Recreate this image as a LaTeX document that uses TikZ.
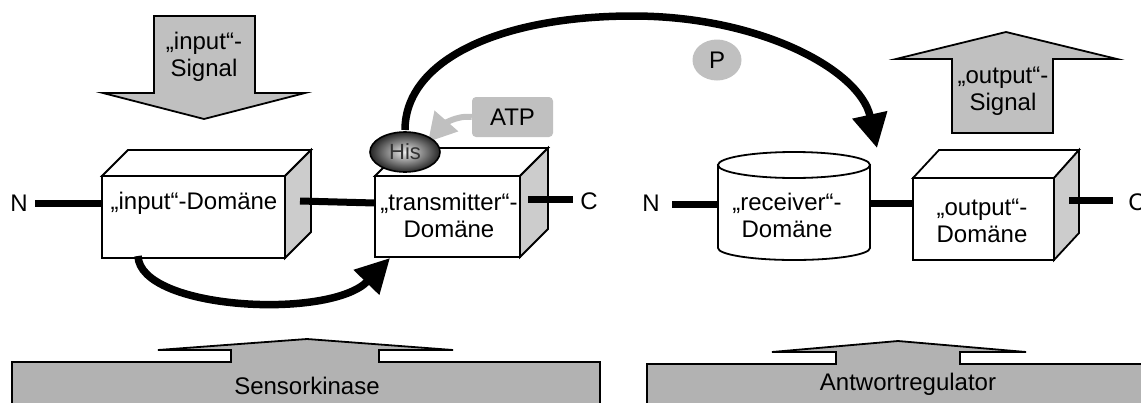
\documentclass[tikz,border=0pt]{standalone}
\usepackage{fontspec}
\setmainfont{Liberation Sans}
\usetikzlibrary{arrows.meta,shapes.geometric}
\definecolor{sig}{RGB}{192,192,192}
\definecolor{side}{RGB}{204,204,204}
\definecolor{band}{RGB}{178,178,178}
\begin{document}
\begin{tikzpicture}[x=1pt,y=-1pt,
  outline/.style={draw=black,line width=1.8pt,line join=miter},
  txt/.style={font=\fontsize{24}{27}\selectfont,inner sep=0pt,align=center},
  bond/.style={line width=7pt},
  face/.style={outline,fill=white,inner sep=0pt},
  thickarrow/.style={line width=7.5pt,-{Triangle[length=34pt,width=34pt]}},
]
\useasboundingbox (0,0) rectangle (1141,402);

% input signal
\draw[outline,fill=sig] (154,16) -- (255,16) -- (255,93) -- (305,93) -- (204,119) -- (103,93) -- (154,93) -- cycle;
\node[txt] (insig) at (204,57) {„input“-\\Signal};

% output signal
\draw[outline,fill=sig] (952,133) -- (952,59) -- (896,59) -- (1006,32) -- (1117,59) -- (1053,59) -- (1053,133) -- cycle;
\node[txt] (outsig) at (1003,91) {„output“-\\Signal};

% bottom bands
\draw[outline,fill=band] (12,410) -- (12,362) -- (231,362) -- (231,350) -- (158,350) -- (307,339) -- (453,350) -- (379,350) -- (379,362) -- (600,362) -- (600,410);
\node[txt] (sk) at (307,386) {Sensorkinase};
\draw[outline,fill=band] (647,410) -- (647,364) -- (836,364) -- (836,352) -- (772,352) -- (898,341) -- (1026,352) -- (960,352) -- (960,364) -- (1150,364) -- (1150,410);
\node[txt] (ar) at (908,384) {Antwortregulator};

% input box
\draw[outline,fill=white] (102,176) -- (128,150) -- (311,150) -- (285,176) -- cycle;
\draw[outline,fill=side] (285,176) -- (311,150) -- (311,232) -- (285,258) -- cycle;
\node[face,minimum width=183pt,minimum height=82pt] (inbox) at (193.5,217) {};
\node[txt] (inlbl) at (194,203) {„input“-Domäne};

% transmitter box
\draw[outline,fill=white] (375,176) -- (403,148) -- (548,148) -- (520,176) -- cycle;
\draw[outline,fill=side] (520,176) -- (548,148) -- (548,229) -- (520,257) -- cycle;
\node[face,minimum width=145pt,minimum height=81pt] (tx) at (447.5,216.5) {};
\node[txt] (txlbl) at (449,215.5) {„transmitter“-\\Domäne};

% output box
\draw[outline,fill=white] (913,178) -- (939,150) -- (1079,150) -- (1054,178) -- cycle;
\draw[outline,fill=side] (1054,178) -- (1079,150) -- (1079,233) -- (1054,260) -- cycle;
\node[face,minimum width=141pt,minimum height=82pt] (outbox) at (983.5,219) {};
\node[txt] (outlbl) at (982,220.5) {„output“-\\Domäne};

% receiver cylinder
\draw[outline,fill=white] (718,165) -- (718,248) arc[start angle=180,end angle=360,x radius=76pt,y radius=12pt] -- (870,165) -- cycle;
\draw[outline,fill=white] (794,165) ellipse[x radius=76pt,y radius=13pt];
\node[inner sep=0pt,minimum width=152pt,minimum height=83pt] (rec) at (794,206) {};
\node[txt] (reclbl) at (787,215) {„receiver“-\\Domäne};

% terminals
\node[txt] (N1) at (19,203) {N};
\node[txt] (C1) at (589,201) {C};
\node[txt] (N2) at (651,203) {N};
\node[txt] (C2) at (1137,202) {C};

% bonds
\coordinate (n1e) at (35,203);
\coordinate (inl) at (102,203);
\coordinate (ins) at (300,201);
\coordinate (txl) at (375,203);
\coordinate (txs) at (528,199);
\coordinate (c1w) at (573,199);
\coordinate (n2e) at (672,204);
\coordinate (recl) at (718,204);
\coordinate (recr) at (870,203);
\coordinate (outl) at (913,203);
\coordinate (outs) at (1069,200);
\coordinate (c2w) at (1113,200);
\draw[bond] (n1e) -- (inl);
\draw[bond] (ins) -- (txl);
\draw[bond] (txs) -- (c1w);
\draw[bond] (n2e) -- (recl);
\draw[bond] (recr) -- (outl);
\draw[bond] (outs) -- (c2w);

% P
\node[ellipse,fill=sig,minimum width=49pt,minimum height=41pt,txt] (P) at (717,60) {P};

% ATP
\node[fill=sig,rounded corners=4pt,minimum width=81pt,minimum height=40pt,txt] (atp) at (512.5,117) {ATP};
\coordinate (hisin) at (428,142);
\draw[draw=sig,line width=6pt,-{Triangle[length=28pt,width=30pt]}] (atp.west) .. controls (455,115) and (442,126) .. (hisin);

% His
\node[ellipse,draw=black,line width=1.6pt,minimum width=70pt,minimum height=40pt,inner sep=0pt,
      inner color=gray!15,outer color=black!85,font=\fontsize{22}{26}\selectfont,text=black!80] (his) at (405,152) {His};

% phosphate transfer arc
\coordinate (rtip) at (877,148);
\draw[thickarrow] (405,130) .. controls (405,60) and (500,16) .. (633,16) .. controls (760,16) and (860,70) .. (rtip);

% input -> transmitter arrow
\coordinate (b1) at (138,256);
\coordinate (b2) at (390,258);
\draw[thickarrow] (b1) .. controls (140,310) and (330,320) .. (b2);
\end{tikzpicture}
\end{document}
